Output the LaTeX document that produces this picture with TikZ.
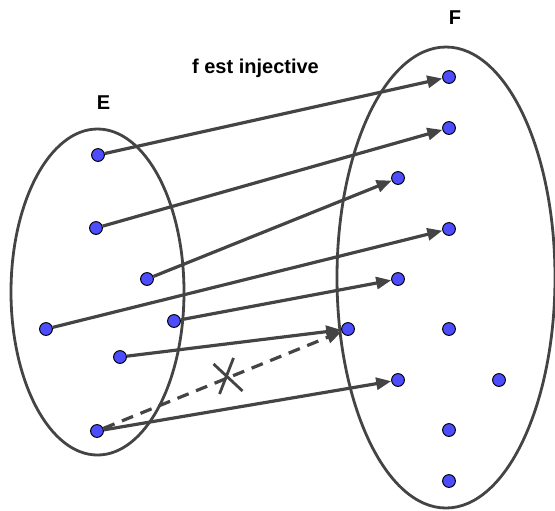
\documentclass[tikz,border=0pt]{standalone}
\usepackage{fontspec}
\setmainfont{Liberation Sans}
\usepackage{xcolor}
\usepackage{tikz}
\usetikzlibrary{arrows.meta,calc}
\definecolor{dotblue}{HTML}{4D4DFF}
\definecolor{ink}{HTML}{444444}

\begin{document}
\begin{tikzpicture}[x=0.5pt, y=-0.5pt, font=\fontsize{10}{12}\selectfont\bfseries,
  pt/.style={circle, draw=black, line width=0.5pt, fill=dotblue, inner sep=0pt, minimum size=6.4pt},
  setline/.style={draw=ink, line width=1.4pt},
  map/.style={ink, line width=1.6pt, -{Triangle[length=7.5pt, width=6pt]}}]
\useasboundingbox (0,0) rectangle (555,510);
% the two sets
\draw[setline] (97.5,292) ellipse [x radius=43.25pt, y radius=81.5pt];
\draw[setline] (446,277.5) ellipse [x radius=54.5pt, y radius=115.25pt];
\node[anchor=base] (lblE) at (103.5,109) {E};
\node[anchor=base] (lblF) at (455,24) {F};
\node[anchor=base] (title) at (255.5,73) {f est injective};
% elements of E
\foreach \n/\x/\y in {e1/98/155, e2/96/228, e3/147/279, e4/46/329, e5/174/321, e6/120/357, e7/97/431}
  \node[pt] (\n) at (\x,\y) {};
% elements of F
\foreach \n/\x/\y in {f1/449/77, f2/449/128, f3/398/178, f4/449/229, f5/398/279, f6/348/329,
  f7/449/329, f8/398/380, f9/499/380, f10/449/430, f11/449/481}
  \node[pt] (\n) at (\x,\y) {};
% the map f
\draw[map] (e1) -- (f1);
\draw[map] (e2) -- (f2);
\draw[map] (e3) -- (f3);
\draw[map] (e4) -- (f4);
\draw[map] (e5) -- (f5);
\draw[map] (e6) -- (f6);
\draw[map] (e7) -- (f8);
\draw[map, dash pattern=on 6pt off 4pt] (e7) -- (f6);
% crossed out
\coordinate (cross) at ($(e7)!0.52!(f6)$);
\draw[ink, line width=1.4pt] ($(cross)+(6,-20)$) -- ($(cross)+(-8,16)$);
\draw[ink, line width=1.4pt] ($(cross)+(-14,-14)$) -- ($(cross)+(15,13)$);
\end{tikzpicture}
\end{document}
